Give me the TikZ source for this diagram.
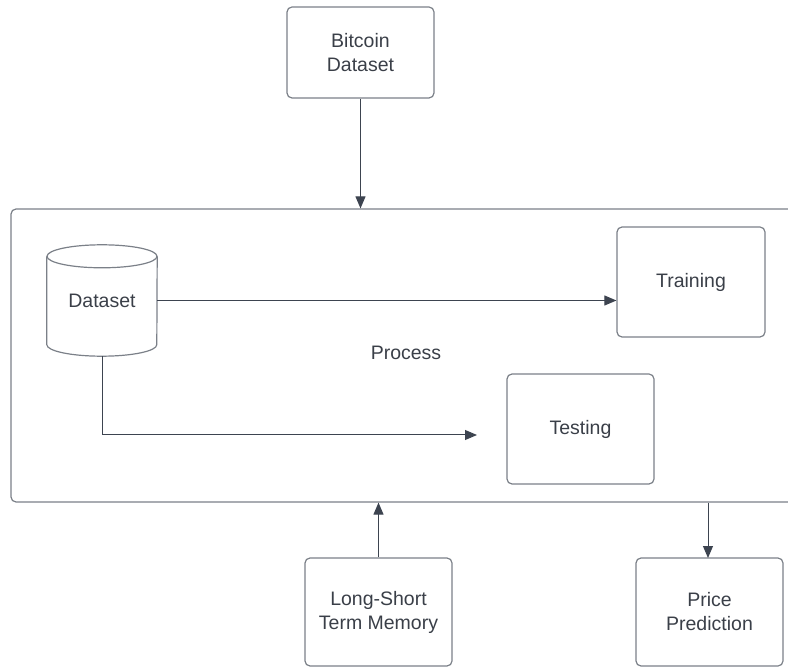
\documentclass[tikz,border=0pt]{standalone}
\usepackage{fontspec}
\setmainfont{Liberation Sans}
\usetikzlibrary{arrows.meta,calc}
\definecolor{boxc}{HTML}{7B8088}
\definecolor{arr}{HTML}{3D4450}
\definecolor{txt}{HTML}{3A3F48}
\begin{document}
\begin{tikzpicture}[x=1pt,y=-1pt,
  box/.style={draw=boxc, rounded corners=5pt, line width=1.2pt, align=center, text=txt,
    font=\fontsize{19.5}{24}\selectfont, inner sep=0pt},
  plain/.style={align=center, text=txt, font=\fontsize{19.5}{24}\selectfont, inner sep=0pt},
  cyl/.style={draw=boxc, line width=1.2pt},
  conn/.style={draw=arr, line width=1pt, -{Triangle[length=12pt,width=10pt]}}]
\useasboundingbox (0,0) rectangle (788,668);
\clip (0,0) rectangle (788,668);
% outer process box
\node[box, minimum width=790pt, minimum height=293pt] (proc) at (406,355.5) {};
\node[plain] (proclab) at (406,353) {Process};
% boxes
\node[box, minimum width=147pt, minimum height=91pt] (btc) at (360.5,52.5) {Bitcoin\\Dataset};
\node[box, minimum width=148pt, minimum height=110pt] (train) at (691,282) {Training};
\node[box, minimum width=147pt, minimum height=110pt] (test) at (580.5,429) {Testing};
\node[box, minimum width=147pt, minimum height=108pt] (lstm) at (378.5,612) {Long-Short\\Term Memory};
\node[box, minimum width=147pt, minimum height=108pt] (price) at (709.5,612) {Price\\Prediction};
% cylinder
\node[plain, minimum width=110pt, minimum height=111pt] (ds) at (102,300.5) {Dataset};
\coordinate (cl) at ($(ds.north west)+(0,11.5)$);
\coordinate (cr) at ($(ds.north east)+(0,11.5)$);
\coordinate (bl) at ($(ds.south west)+(0,-11.5)$);
\draw[cyl] ($(cl)!0.5!(cr)$) ellipse [x radius=55pt, y radius=11.5pt];
\draw[cyl] (cl) -- (bl) arc[start angle=180, end angle=360, x radius=55pt, y radius=11.5pt] -- (cr);
% connectors
\coordinate (testend) at (477,435);
\coordinate (pptop) at (708,558);
\draw[conn] (btc.south) -- (proc.north -| btc.south);
\draw[conn] (ds.east) -- (ds.east -| train.west);
\draw[conn] (ds.south) |- (testend);
\draw[conn] (lstm.north) -- (lstm.north |- proc.south);
\draw[conn] (proc.south -| pptop) -- (pptop);
\end{tikzpicture}
\end{document}
